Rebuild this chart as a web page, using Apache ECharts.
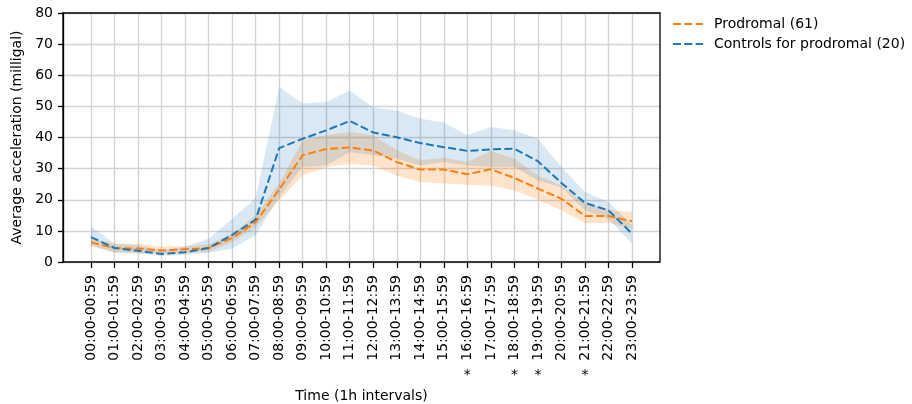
<!DOCTYPE html>
<html>
<head>
<meta charset="utf-8">
<script src="https://cdn.jsdelivr.net/npm/echarts@6/dist/echarts.min.js"></script>
<style>
  html, body { margin: 0; padding: 0; background: #fff; }
  #chart { width: 912px; height: 404px; }
</style>
</head>
<body>
<div id="chart"></div>
<script>
// hourly intervals on the x axis
const hours = [
  '00:00-00:59', '01:00-01:59', '02:00-02:59', '03:00-03:59', '04:00-04:59', '05:00-05:59',
  '06:00-06:59', '07:00-07:59', '08:00-08:59', '09:00-09:59', '10:00-10:59', '11:00-11:59',
  '12:00-12:59', '13:00-13:59', '14:00-14:59', '15:00-15:59', '16:00-16:59', '17:00-17:59',
  '18:00-18:59', '19:00-19:59', '20:00-20:59', '21:00-21:59', '22:00-22:59', '23:00-23:59'
]
// significance markers shown under the labels
const significance = ['', '', '', '', '', '', '', '', '', '', '', '', '', '', '', '', '*', '', '*', '*', '', '*', '', '']

const prodromalMean = [6.3, 4.5, 4.3, 3.7, 4.1, 4.5, 7.7, 12.8, 23.3, 34.3, 36.3, 36.8, 35.8, 32.1, 29.7, 29.7, 28.2, 29.8, 27.0, 23.6, 20.3, 14.8, 14.8, 13.1]
const prodromalLower = [5.0, 3.2, 2.9, 2.7, 3.0, 3.2, 6.4, 11.2, 19.8, 27.8, 30.5, 31.6, 31.0, 27.8, 25.7, 25.2, 24.8, 24.6, 23.0, 20.0, 16.6, 12.5, 12.5, 10.7]
const prodromalUpper = [7.5, 5.9, 5.9, 5.0, 5.1, 5.7, 9.1, 15.0, 25.2, 39.1, 40.7, 41.8, 40.7, 35.9, 32.7, 33.5, 32.1, 35.7, 33.2, 27.8, 24.6, 18.7, 16.6, 16.1]

const controlsMean = [8.0, 4.5, 3.6, 2.6, 3.1, 4.5, 8.7, 13.6, 36.6, 39.6, 42.3, 45.3, 41.6, 40.1, 38.2, 36.9, 35.7, 36.2, 36.4, 32.4, 25.4, 19.0, 16.6, 9.1]
const controlsLower = [5.5, 2.9, 2.7, 1.9, 2.4, 2.9, 4.3, 8.6, 21.0, 30.5, 31.0, 35.3, 34.3, 33.2, 31.0, 32.1, 31.0, 30.5, 30.5, 26.2, 24.0, 16.6, 13.9, 5.9]
const controlsUpper = [11.5, 5.9, 5.4, 3.7, 5.0, 7.5, 13.9, 20.6, 56.2, 50.9, 51.4, 55.1, 49.6, 48.7, 46.0, 44.8, 40.7, 43.4, 42.3, 39.6, 30.5, 22.5, 19.3, 11.8]

const ORANGE = '#ff7f0e'
const BLUE = '#1f77b4'
const FONT = 'DejaVu Sans'

function band(lower, upper, stack, color) {
  return [
    {
      type: 'line', xAxisIndex: 1, yAxisIndex: 1, stack, data: lower,
      symbol: 'none', lineStyle: { opacity: 0 }, silent: true, z: 1
    },
    {
      type: 'line', xAxisIndex: 1, yAxisIndex: 1, stack,
      data: upper.map((v, i) => +(v - lower[i]).toFixed(2)),
      symbol: 'none', lineStyle: { opacity: 0 }, areaStyle: { color, opacity: 1 }, silent: true, z: 1
    }
  ]
}

function meanLine(name, data, color) {
  return {
    name, type: 'line', xAxisIndex: 1, yAxisIndex: 1, data,
    symbol: 'none', showSymbol: false, color,
    lineStyle: { color, width: 2, type: [8, 3.3] }, z: 3
  }
}

const chart = echarts.init(document.getElementById('chart'))
chart.setOption({
  animation: false,
  textStyle: { fontFamily: FONT },
  grid: [
    // outer box with the horizontal grid
    {
      left: 63, top: 13, width: 597, height: 249, containLabel: false, outerBoundsMode: 'none',
      show: true, borderColor: '#000', borderWidth: 1.3, backgroundColor: 'transparent', z: 10
    },
    // inner area spanning first to last category
    { left: 91, top: 13, width: 541, height: 249, containLabel: false, outerBoundsMode: 'none' }
  ],
  legend: {
    data: ['Prodromal (61)', 'Controls for prodromal (20)'],
    orient: 'vertical',
    left: 667, top: 12,
    itemWidth: 30, itemHeight: 14, itemGap: 6,
    itemStyle: { opacity: 0 },
    textStyle: { fontFamily: FONT, fontSize: 14, color: '#000', padding: [0, 0, 0, 6] }
  },
  xAxis: [
    { gridIndex: 0, type: 'value', min: 0, max: 1, show: false },
    {
      gridIndex: 1, type: 'category', data: hours, boundaryGap: false,
      name: 'Time (1h intervals)', nameLocation: 'middle', nameGap: 127,
      nameTextStyle: { fontFamily: FONT, fontSize: 14, color: '#000' },
      axisLine: { show: false },
      axisTick: { show: true, alignWithLabel: true, length: 6, lineStyle: { color: '#000', width: 1.3 } },
      axisLabel: { interval: 0, rotate: 90, margin: 13, fontFamily: FONT, fontSize: 14, color: '#000' },
      splitLine: { show: true, interval: 0, lineStyle: { color: '#d3d3d3', width: 1.4 } }
    },
    {
      gridIndex: 1, type: 'category', data: hours, boundaryGap: false, position: 'bottom', offset: 98,
      axisLine: { show: false }, axisTick: { show: false }, splitLine: { show: false },
      axisLabel: { interval: 0, margin: 8, fontFamily: FONT, fontSize: 14, color: '#000', formatter: (v, i) => significance[i] }
    }
  ],
  yAxis: [
    {
      gridIndex: 0, type: 'value', min: 0, max: 80, interval: 10,
      name: 'Average acceleration (milligal)', nameLocation: 'middle', nameGap: 38,
      nameTextStyle: { fontFamily: FONT, fontSize: 14, color: '#000' },
      axisLine: { show: true, lineStyle: { color: '#000', width: 1.3 } },
      axisTick: { show: true, length: 5, lineStyle: { color: '#000', width: 1.3 } },
      axisLabel: { margin: 10, fontFamily: FONT, fontSize: 14, color: '#000' },
      splitLine: { show: true, lineStyle: { color: '#d3d3d3', width: 1.4 } }
    },
    { gridIndex: 1, type: 'value', min: 0, max: 80, show: false }
  ],
  series: [
    ...band(prodromalLower, prodromalUpper, 'prod', 'rgba(255,127,14,0.22)'),
    ...band(controlsLower, controlsUpper, 'ctl', 'rgba(31,119,180,0.17)'),
    meanLine('Prodromal (61)', prodromalMean, ORANGE),
    meanLine('Controls for prodromal (20)', controlsMean, BLUE)
  ]
})
</script>
</body>
</html>
